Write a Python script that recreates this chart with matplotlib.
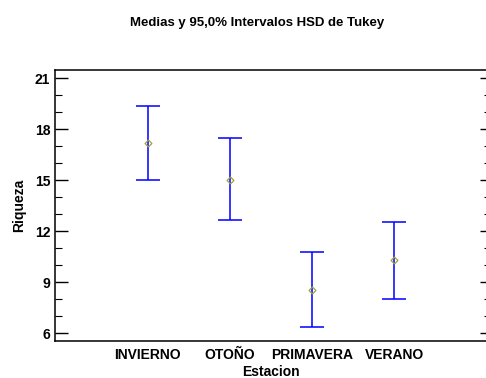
import numpy as np
import matplotlib.pyplot as plt

plt.rcParams['font.family'] = ['Liberation Sans', 'DejaVu Sans']

# Data
estaciones = ['INVIERNO', 'OTOÑO', 'PRIMAVERA', 'VERANO']
medias = [17.18, 15.04, 8.56, 10.29]
inferior = [15.0, 12.65, 6.37, 8.0]
superior = [19.37, 17.5, 10.76, 12.53]
yticks = [6, 9, 12, 15, 18, 21]

x = np.arange(len(estaciones))
medias = np.array(medias)
err = [medias - np.array(inferior), np.array(superior) - medias]

fig = plt.figure(figsize=(4.86, 3.78), dpi=100)
ax = fig.add_axes([55/486, 1-341/378, 432/486, 271/378])

ax.errorbar(x, medias, yerr=err, fmt='none', ecolor='#0000ff', elinewidth=1.1,
            capsize=8.5, capthick=1.1)
ax.plot(x, medias, 'D', ms=3.5, mfc='none', mec='#a0a040', mew=0.9)

ax.set_xlim(-1.13, 4.13)
ax.set_ylim(5.53, 21.49)
ax.set_xticks(x)
ax.set_xticklabels(estaciones, fontweight='bold', fontsize=10)
ax.set_yticks(yticks)
ax.set_yticklabels([str(v) for v in yticks], fontweight='bold', fontsize=10)
ax.set_yticks(np.arange(6, 22, 1), minor=True)
ax.tick_params(axis='x', length=0, pad=5)
ax.tick_params(axis='y', which='major', direction='in', length=9, width=1)
ax.tick_params(axis='y', which='minor', direction='in', length=5, width=0.8)
for s in ax.spines.values():
    s.set_linewidth(1.1)
ax.spines['right'].set_visible(False)

# short ticks on the right edge
ax2 = ax.twinx()
ax2.set_ylim(ax.get_ylim())
ax2.set_yticks(yticks)
ax2.set_yticks(np.arange(6, 22, 1), minor=True)
ax2.set_yticklabels([])
ax2.tick_params(axis='y', which='major', direction='in', length=5, width=1)
ax2.tick_params(axis='y', which='minor', direction='in', length=2, width=0.8)
for s in ax2.spines.values():
    s.set_visible(False)

ax.set_xlabel('Estacion', fontweight='bold', fontsize=10, labelpad=2)
ax.set_ylabel('Riqueza', fontweight='bold', fontsize=10, labelpad=6)
fig.text(257/486, 1-23/378, 'Medias y 95,0% Intervalos HSD de Tukey',
         ha='center', va='center', fontweight='bold', fontsize=9.5)

fig.savefig('out.png', dpi=100)
